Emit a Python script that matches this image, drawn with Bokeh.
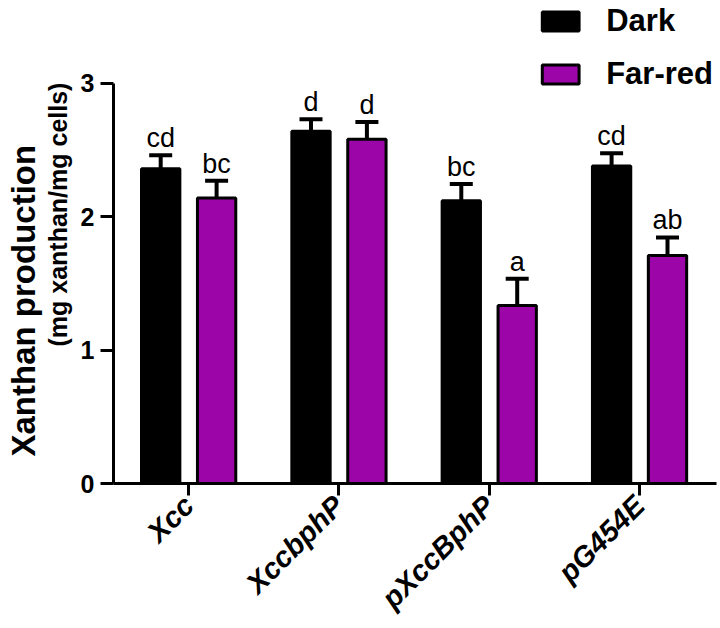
import math
from bokeh.plotting import figure
from bokeh.models import (ColumnDataSource, Whisker, TeeHead, Legend, LegendItem,
                          FixedTicker, Range1d, Title)
from bokeh.core.properties import value
from bokeh.embed import file_html
from bokeh.resources import INLINE

# ---- data ----
groups = ["Xcc", "XccbphP", "pXccBphP", "pG454E"]
dark = [2.36, 2.64, 2.12, 2.38]
dark_err = [0.10, 0.09, 0.125, 0.095]
farred = [2.14, 2.58, 1.335, 1.71]
farred_err = [0.13, 0.13, 0.20, 0.135]
dark_letters = ["cd", "d", "bc", "cd"]
farred_letters = ["bc", "d", "a", "ab"]
series_names = ["Dark", "Far-red"]
yticks = [0, 1, 2, 3]
ytitle1 = "Xanthan production"
ytitle2 = "(mg xanthan/mg cells)"

FONT = value("Liberation Sans")
PURPLE = "#9C05A8"

W, H = 720, 628
p = figure(width=W, height=H, output_backend="svg", toolbar_location=None,
           x_range=Range1d(0.5, 4.512), y_range=Range1d(0, 3.621),
           min_border_left=113, min_border_right=4, min_border_top=0,
           min_border_bottom=144)
p.outline_line_color = None
p.grid.visible = False
p.background_fill_color = "white"

pos = [i + 1 for i in range(len(groups))]
off = 0.186
bw = 0.255

src_d = ColumnDataSource(dict(x=[v - off for v in pos], top=dark,
                              up=[a + b for a, b in zip(dark, dark_err)],
                              lab=dark_letters))
src_f = ColumnDataSource(dict(x=[v + off for v in pos], top=farred,
                              up=[a + b for a, b in zip(farred, farred_err)],
                              lab=farred_letters))

for src in (src_d, src_f):
    w = Whisker(source=src, base="x", lower="top", upper="up",
                line_color="black", line_width=4,
                upper_head=TeeHead(size=23, line_width=4, line_color="black"),
                lower_head=None)
    p.add_layout(w)

r_d = p.vbar(x="x", top="top", bottom=0, width=bw, source=src_d,
             fill_color="black", line_color="black", line_width=3)
r_f = p.vbar(x="x", top="top", bottom=0, width=bw, source=src_f,
             fill_color=PURPLE, line_color="black", line_width=3)

for src in (src_d, src_f):
    p.text(x="x", y="up", text="lab", source=src, text_font=FONT,
           text_font_size="27px", text_align="center",
           text_baseline="alphabetic", y_offset=-17, text_color="black")

# main y axis
ya = p.yaxis[0]
ya.ticker = FixedTicker(ticks=yticks)
ya.bounds = (0, 3)
ya.axis_line_width = 3
ya.major_tick_line_width = 3
ya.major_tick_out = 13
ya.major_tick_in = 0
ya.minor_tick_line_color = None
ya.major_label_text_font = "Liberation Sans"
ya.major_label_text_font_style = "bold"
ya.major_label_text_font_size = "25px"
ya.major_label_text_color = "black"
ya.major_label_standoff = 6
ya.axis_label = " "
ya.axis_label_text_font_size = "1px"
ya.axis_label_standoff = 2

# y title, two lines (closest to the axis first)
p.add_layout(Title(text=ytitle2, align="left", offset=137, standoff=0,
                   text_font="Liberation Sans", text_font_style="bold",
                   text_font_size="25px", text_color="black"), "left")
p.add_layout(Title(text=ytitle1, align="left", offset=27, standoff=0,
                   text_font="Liberation Sans", text_font_style="bold",
                   text_font_size="33px", text_color="black"), "left")

# x axis
xa = p.xaxis[0]
xa.ticker = FixedTicker(ticks=pos)
xa.major_label_overrides = {v: g for v, g in zip(pos, groups)}
xa.major_label_orientation = math.pi / 4
xa.axis_line_width = 3
xa.major_tick_line_width = 3
xa.major_tick_out = 12
xa.major_tick_in = 0
xa.minor_tick_line_color = None
xa.major_label_text_font = "Liberation Sans"
xa.major_label_text_font_style = "bold italic"
xa.major_label_text_font_size = "29px"
xa.major_label_text_color = "black"
xa.major_label_standoff = 5

legend = Legend(items=[LegendItem(label=series_names[0], renderers=[r_d]),
                       LegendItem(label=series_names[1], renderers=[r_f])],
                location="top_right", orientation="vertical")
legend.label_text_font = "Liberation Sans"
legend.label_text_font_style = "bold"
legend.label_text_font_size = "31px"
legend.label_text_color = "black"
legend.glyph_width = 46
legend.glyph_height = 24
legend.label_standoff = 23
legend.spacing = 17
legend.padding = 0
legend.margin = 3
legend.border_line_color = None
legend.background_fill_alpha = 0
p.add_layout(legend)

open("out.html", "w").write(file_html(p, INLINE))
